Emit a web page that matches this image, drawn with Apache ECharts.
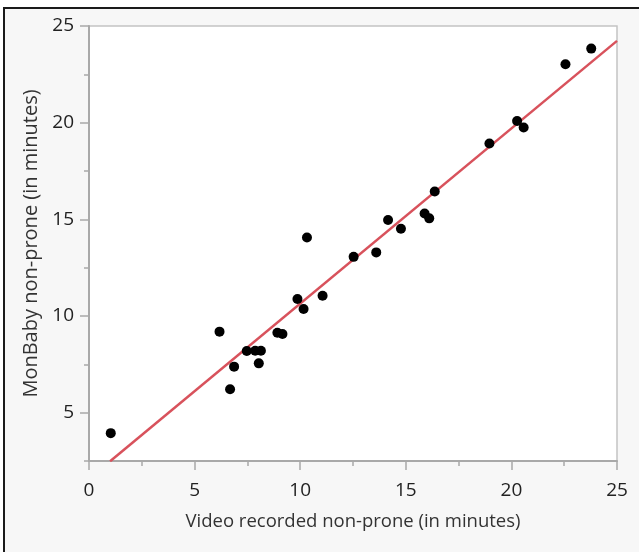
<!DOCTYPE html>
<html>
<head>
<meta charset="utf-8">
<script src="https://cdn.jsdelivr.net/npm/echarts@6/dist/echarts.min.js"></script>
<style>
  html, body { margin: 0; padding: 0; background: #ffffff; }
  #frame {
    position: absolute; left: 3px; top: 7px; width: 636px; height: 545px;
    background: #f7f7f7; border-left: 2px solid #1a1a1a; border-top: 2px solid #1a1a1a;
    box-sizing: border-box;
  }
  #chart { position: absolute; left: 0; top: 0; width: 639px; height: 552px; }
</style>
</head>
<body>
<div id="frame"></div>
<div id="chart"></div>
<script>
// Video recorded vs. MonBaby non-prone time, minutes per session
const videoMinutes = [
  1.03, 6.18, 6.68, 6.87, 7.47, 7.87, 8.14, 8.04, 8.92, 9.16, 9.87, 10.16, 10.32,
  11.06, 12.53, 13.60, 14.16, 14.77, 15.89, 16.11, 16.37, 18.96, 20.27, 20.58, 22.56, 23.78
];
const monbabyMinutes = [
  3.94, 9.19, 6.21, 7.38, 8.19, 8.20, 8.20, 7.55, 9.13, 9.07, 10.88, 10.36, 14.06,
  11.05, 13.06, 13.29, 14.97, 14.51, 15.30, 15.05, 16.44, 18.92, 20.09, 19.75, 23.02, 23.83
];

// Fitted line: MonBaby = intercept + slope * Video
const fitIntercept = 1.58;
const fitSlope = 0.906;
const fitRange = [1.0, 25];

const xTicks = [0, 5, 10, 15, 20, 25];
const yTicks = [5, 10, 15, 20, 25];
const yMinorTicks = [2.5, 7.5, 12.5, 17.5, 22.5];

const points = videoMinutes.map((v, i) => [v, monbabyMinutes[i]]);
const fitLine = fitRange.map(x => [x, fitIntercept + fitSlope * x]);

const font = '"Open Sans", "Noto Sans", sans-serif';
const axisGrey = '#a9a9a9';

const chart = echarts.init(document.getElementById('chart'), null, { renderer: 'canvas' });
chart.setOption({
  backgroundColor: 'transparent',
  animation: false,
  grid: {
    left: 89, top: 26, right: 22, bottom: 91,
    show: true, backgroundColor: '#ffffff', borderColor: '#c4c4c4', borderWidth: 1.5
  },
  xAxis: {
    type: 'value', min: 0, max: 25, interval: 5,
    name: 'Video recorded non-prone (in minutes)',
    nameLocation: 'middle', nameGap: 51,
    nameTextStyle: { fontFamily: font, fontSize: 18.5, color: '#333' },
    axisLine: { lineStyle: { color: axisGrey, width: 2 } },
    axisTick: { length: 9, lineStyle: { color: axisGrey, width: 1.5 } },
    minorTick: { show: true, splitNumber: 2, length: 5, lineStyle: { color: axisGrey, width: 1.5 } },
    axisLabel: {
      margin: 20, fontFamily: font, fontSize: 19, color: '#222',
      customValues: xTicks
    },
    splitLine: { show: false }
  },
  yAxis: [{
    type: 'value', min: 2.5, max: 25,
    name: 'MonBaby non-prone (in minutes)',
    nameLocation: 'middle', nameGap: 48,
    nameTextStyle: { fontFamily: font, fontSize: 20, color: '#333' },
    axisLine: { show: true, lineStyle: { color: axisGrey, width: 2 } },
    axisTick: { show: true, length: 9, customValues: yTicks, lineStyle: { color: axisGrey, width: 1.5 } },
    axisLabel: { margin: 15, fontFamily: font, fontSize: 19, color: '#222', customValues: yTicks },
    splitLine: { show: false }
  }, {
    type: 'value', min: 2.5, max: 25, position: 'left',
    axisLine: { show: false },
    axisTick: { show: true, length: 5, customValues: yMinorTicks, lineStyle: { color: axisGrey, width: 1.5 } },
    axisLabel: { show: false },
    splitLine: { show: false }
  }],
  series: [{
    type: 'line',
    data: fitLine,
    yAxisIndex: 0,
    symbol: 'none',
    clip: true,
    lineStyle: { color: '#d8525c', width: 2.5 },
    z: 2
  }, {
    type: 'scatter',
    data: points,
    yAxisIndex: 0,
    symbol: 'circle',
    symbolSize: 10,
    itemStyle: { color: '#000000', opacity: 1 },
    z: 3
  }]
});
</script>
</body>
</html>
